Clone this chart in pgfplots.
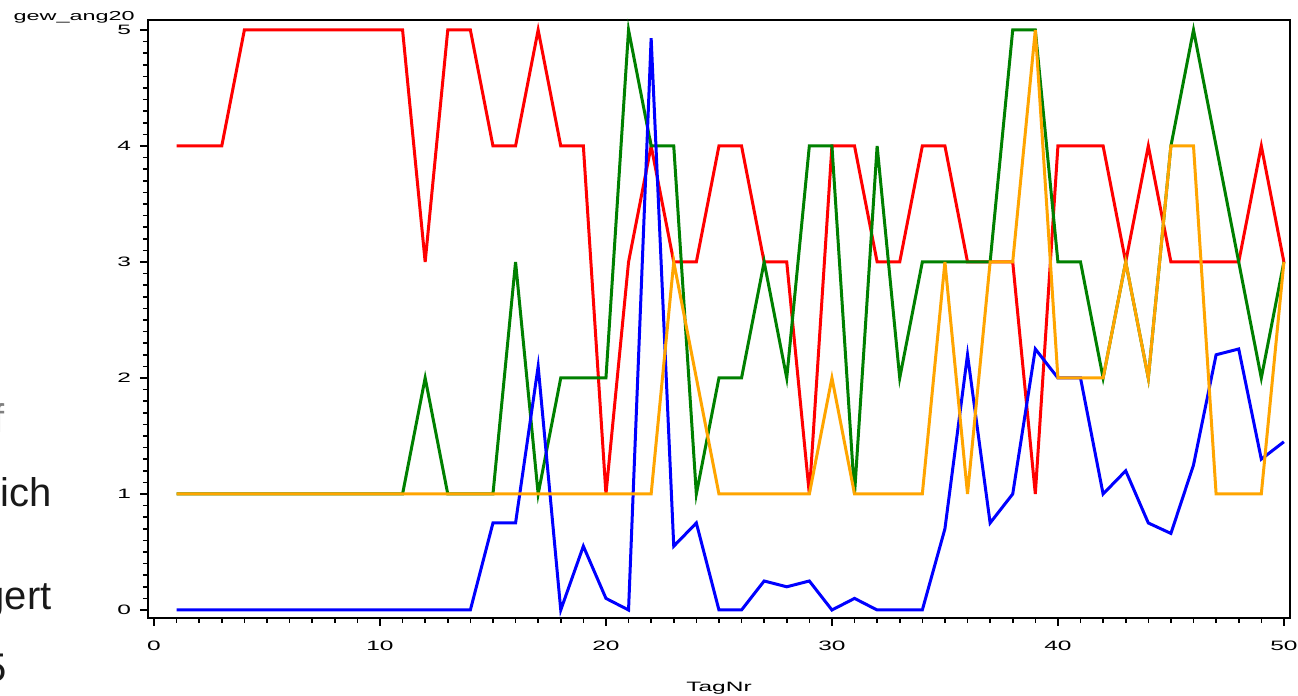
\documentclass[border=0pt]{standalone}
\usepackage{fontspec}
\setmainfont{Liberation Sans}
\newfontfamily\widefont[FakeStretch=1.8]{Liberation Sans}
\usepackage{pgfplots}
\usepackage{pgfplotstable}
\pgfplotsset{compat=1.18}

% TagNr, then one column per group
\pgfplotstableread{
x  red green orange blue
1  4   1     1      0
2  4   1     1      0
3  4   1     1      0
4  5   1     1      0
5  5   1     1      0
6  5   1     1      0
7  5   1     1      0
8  5   1     1      0
9  5   1     1      0
10 5   1     1      0
11 5   1     1      0
12 3   2     1      0
13 5   1     1      0
14 5   1     1      0
15 4   1     1      0.75
16 4   3     1      0.75
17 5   1     1      2.1
18 4   2     1      0
19 4   2     1      0.55
20 1   2     1      0.1
21 3   5     1      0
22 4   4     1      4.93
23 3   4     3      0.55
24 3   1     2      0.75
25 4   2     1      0
26 4   2     1      0
27 3   3     1      0.25
28 3   2     1      0.2
29 1   4     1      0.25
30 4   4     2      0
31 4   1     1      0.1
32 3   4     1      0
33 3   2     1      0
34 4   3     1      0
35 4   3     3      0.7
36 3   3     1      2.2
37 3   3     3      0.75
38 3   5     3      1.0
39 1   5     5      2.25
40 4   3     2      2.0
41 4   3     2      2.0
42 4   2     2      1.0
43 3   3     3      1.2
44 4   2     2      0.75
45 3   4     4      0.66
46 3   5     4      1.25
47 3   4     1      2.2
48 3   3     1      2.25
49 4   2     1      1.3
50 3   3     3      1.45
}\gewdata

\definecolor{sasred}{RGB}{255,0,0}
\definecolor{sasgreen}{RGB}{0,128,0}
\definecolor{sasblue}{RGB}{0,0,255}
\definecolor{sasorange}{RGB}{255,165,0}

\begin{document}
\begin{tikzpicture}
\useasboundingbox (-74pt,-39pt) rectangle (575pt,309pt);
\begin{axis}[
    scale only axis,
    width=571pt, height=299pt,
    xmin=-0.265, xmax=50.27,
    ymin=-0.069, ymax=5.086,
    axis line style={line width=0.9pt},
    xtick={0,10,20,30,40,50},
    ytick={0,1,2,3,4,5},
    minor x tick num=9,
    minor y tick num=9,
    tick align=outside,
    xtick pos=bottom, ytick pos=left,
    major tick length=4pt, minor tick length=2.5pt,
    tick style={black, line width=0.8pt},
    /pgf/number format/assume math mode=true,
    ticklabel style={font=\widefont\fontsize{6.8}{7}\selectfont},
    xticklabel style={yshift=-4pt},
    yticklabel style={xshift=-1pt},
    xlabel={TagNr},
    xlabel style={font=\widefont\fontsize{6.8}{7}\selectfont, at={(axis description cs:0.5,0)}, anchor=center, yshift=-35pt},
    every axis plot/.append style={line width=1.5pt, no markers},
    clip=false,
]
\addplot[sasred]    table[x=x, y=red]    {\gewdata};
\addplot[sasgreen]  table[x=x, y=green]  {\gewdata};
\addplot[sasblue]   table[x=x, y=blue]   {\gewdata};
\addplot[sasorange] table[x=x, y=orange] {\gewdata};
\node[anchor=east, font=\widefont\fontsize{6.5}{7}\selectfont, inner sep=0pt]
    at (axis description cs:0,1) [xshift=-6.5pt, yshift=1.5pt] {gew\_ang20};
\end{axis}
% pieces of slide text cut by the left edge
\begin{scope}[every node/.style={anchor=base east, inner sep=0pt, font=\fontsize{20}{24}\selectfont}]
\node[text=black!50] at (-71.5pt,92.5pt) {f};
\node[text=black!90] at (-48pt,55.5pt) {ich};
\node[text=black!90] at (-48pt,4pt) {gert};
\node[text=black!90] at (-70.5pt,-32pt) {5};
\end{scope}
\end{tikzpicture}
\end{document}
